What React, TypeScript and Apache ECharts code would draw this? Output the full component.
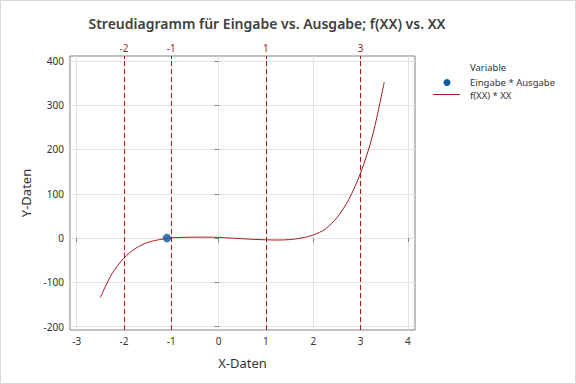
import React, { useEffect, useRef } from "react";
import * as echarts from "echarts";

const curveX = [-2.5, -2.25, -2.0, -1.75, -1.5, -1.25, -1.0, -0.75, -0.5, -0.25, 0, 0.25, 0.5, 0.75, 1.0, 1.25, 1.5, 1.75, 2.0, 2.25, 2.5, 2.75, 3.0, 3.25, 3.5];
const curveY = [-134, -80, -45, -23, -10, -3.5, 0.5, 1.5, 2, 2, 1.5, 0, -1.5, -3, -4, -4.5, -3.5, 0, 7, 20, 46, 87, 147, 230, 352];
const pointX = [-1.09];
const pointY = [0];
const refLines = [-2, -1, 1, 3];
const xTicks = [-3, -2, -1, 0, 1, 2, 3, 4];
const yTicks = [-200, -100, 0, 100, 200, 300, 400];

const FONT = "'Noto Sans', 'Open Sans', sans-serif";
const RED = "#a51c1c";
const TXT = "#333333";

export default function App() {
  const ref = useRef<HTMLDivElement>(null);
  useEffect(() => {
    const chart = echarts.init(ref.current!, null, { renderer: "svg" });
    chart.setOption({
      animation: false,
      backgroundColor: "#ffffff",
      textStyle: { fontFamily: FONT },
      title: {
        text: "Streudiagramm für Eingabe vs. Ausgabe; f(XX) vs. XX",
        left: 261,
        top: 10,
        textAlign: "center",
        textStyle: { fontFamily: FONT, fontSize: 14, fontWeight: 600, color: "#404040" },
      },
      grid: {
        left: 69,
        right: 160,
        top: 55,
        bottom: 53,
        show: true,
        borderColor: "#808080",
        borderWidth: 1,
        backgroundColor: "transparent",
      },
      xAxis: [
        {
          type: "value",
          min: -3.14,
          max: 4.15,
          name: "X-Daten",
          nameLocation: "middle",
          nameGap: 26,
          nameTextStyle: { fontFamily: FONT, fontSize: 13, color: TXT },
          axisLine: { show: false },
          axisTick: { show: true, length: 4, customValues: xTicks, lineStyle: { color: "#808080" } },
          axisLabel: { customValues: xTicks, fontFamily: FONT, fontSize: 10, color: TXT, margin: 6 },
          splitLine: { show: true, lineStyle: { color: "#e3e3e3", width: 1 } },
        },
        {
          type: "value",
          position: "top",
          min: -3.14,
          max: 4.15,
          axisLine: { show: false },
          axisTick: { show: true, inside: true, length: 3, customValues: refLines, lineStyle: { color: RED } },
          axisLabel: { customValues: refLines, fontFamily: FONT, fontSize: 10, color: RED, margin: 3 },
          splitLine: { show: false },
        },
      ],
      yAxis: {
        type: "value",
        min: -207.6,
        max: 411,
        name: "Y-Daten",
        nameLocation: "middle",
        nameGap: 31,
        nameTextStyle: { fontFamily: FONT, fontSize: 13, color: TXT },
        axisLine: { show: false },
        axisTick: { show: true, length: 4, customValues: yTicks, lineStyle: { color: "#808080" } },
        axisLabel: { customValues: yTicks, fontFamily: FONT, fontSize: 10, color: TXT, margin: 6 },
        splitLine: { show: true, lineStyle: { color: "#e3e3e3", width: 1 } },
      },
      series: [
        {
          name: "f(XX) * XX",
          type: "line",
          xAxisIndex: 0,
          data: curveX.map((x, i) => [x, curveY[i]]),
          showSymbol: false,
          smooth: 0.3,
          lineStyle: { color: RED, width: 1 },
          itemStyle: { color: RED },
          z: 3,
          markLine: {
            silent: true,
            symbol: ["none", "none"],
            label: { show: false },
            lineStyle: { color: RED, type: [5, 3], width: 1 },
            data: refLines.map((v) => ({ xAxis: v })),
          },
        },
        {
          name: "Eingabe * Ausgabe",
          type: "scatter",
          xAxisIndex: 0,
          data: pointX.map((x, i) => [x, pointY[i]]),
          symbol: "circle",
          symbolSize: 8,
          itemStyle: { color: "#0b5aa8", borderColor: "#1f3f66", borderWidth: 0.5 },
          z: 5,
        },
      ],
      graphic: [
        {
          type: "text",
          x: 469,
          y: 66,
          style: { text: "Variable", fontFamily: FONT, fontSize: 9.5, fill: TXT, verticalAlign: "middle" },
        },
        {
          type: "circle",
          shape: { cx: 446, cy: 81.5, r: 3.5 },
          style: { fill: "#0b5aa8" },
        },
        {
          type: "text",
          x: 469,
          y: 81.5,
          style: { text: "Eingabe * Ausgabe", fontFamily: FONT, fontSize: 9.5, fill: TXT, verticalAlign: "middle" },
        },
        {
          type: "line",
          shape: { x1: 432, y1: 93.5, x2: 459, y2: 93.5 },
          style: { stroke: RED, lineWidth: 1 },
        },
        {
          type: "text",
          x: 469,
          y: 94,
          style: { text: "f(XX) * XX", fontFamily: FONT, fontSize: 9.5, fill: TXT, verticalAlign: "middle" },
        },
      ],
    });
    return () => chart.dispose();
  }, []);
  return (
    <div
      ref={ref}
      style={{
        position: "absolute",
        left: 0,
        top: 0,
        width: 576,
        height: 384,
        boxSizing: "border-box",
        border: "1px solid #d9d9d9",
      }}
    />
  );
}
